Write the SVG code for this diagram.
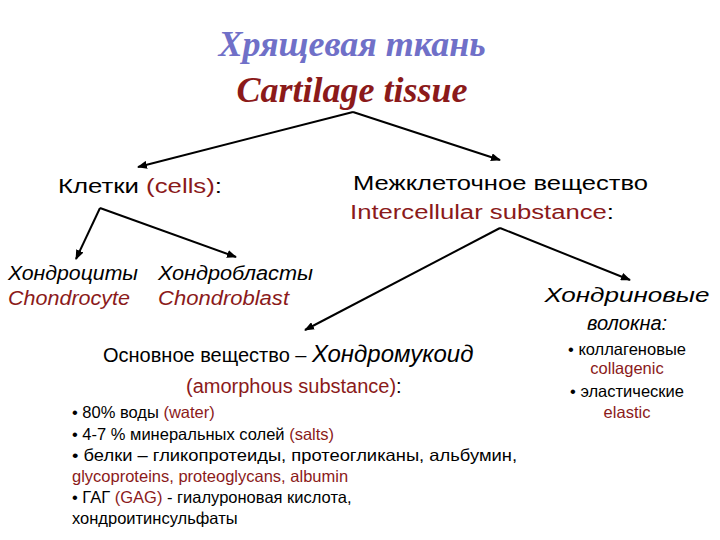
<svg xmlns="http://www.w3.org/2000/svg" width="720" height="540" viewBox="0 0 720 540">
<style>
.s{font-family:"Liberation Sans",Arial,sans-serif;font-size:20px;fill:#000}
.r{fill:#8b1a1a}
.i{font-style:italic}
.b{font-size:16.5px}
line{stroke:#000;stroke-width:2;marker-end:url(#a)}
</style>
<defs><marker id="a" markerWidth="10" markerHeight="8" refX="9" refY="4" orient="auto" markerUnits="userSpaceOnUse"><path d="M0,0L10,4L0,8z" fill="#000"/></marker></defs>
<rect width="720" height="540" fill="#fff"/>
<g id="title" font-family="Liberation Serif,Times New Roman,serif" font-style="italic" font-weight="bold" font-size="36" text-anchor="middle">
<text x="352" y="56" fill="#7070c8">Хрящевая ткань</text>
<text x="352" y="102" fill="#8b1a1a">Cartilage tissue</text></g>
<g id="cells"><text class="s" x="58" y="193" textLength="164" lengthAdjust="spacingAndGlyphs">Клетки <tspan class="r">(cells)</tspan>:</text></g>
<g id="inter"><text class="s" x="353" y="190" textLength="295" lengthAdjust="spacingAndGlyphs">Межклеточное вещество</text><text class="s" x="350" y="219" textLength="264" lengthAdjust="spacingAndGlyphs"><tspan class="r">Intercellular substance</tspan>:</text></g>
<g id="chondrocyte"><text class="s i" x="8" y="280" textLength="130" lengthAdjust="spacingAndGlyphs">Хондроциты</text><text class="s i r" x="8" y="305" textLength="122" lengthAdjust="spacingAndGlyphs">Chondrocyte</text></g>
<g id="chondroblast"><text class="s i" x="158" y="280" textLength="155" lengthAdjust="spacingAndGlyphs">Хондробласты</text><text class="s i r" x="158" y="305" textLength="131" lengthAdjust="spacingAndGlyphs">Chondroblast</text></g>
<g id="fibers" text-anchor="middle"><text class="s i" x="627" y="302" font-size="21" textLength="165" lengthAdjust="spacingAndGlyphs">Хондриновые</text><text class="s i" x="627" y="330" font-size="21">волокна:</text>
<text class="s b" x="627" y="355">• коллагеновые</text><text class="s b r" x="627" y="374">collagenic</text><text class="s b" x="627" y="397">• эластические</text><text class="s b r" x="627" y="418">elastic</text></g>
<g id="ground"><text class="s" x="103" y="362" font-size="16">Основное вещество – <tspan class="i" font-size="24">Хондромукоид</tspan></text>
<text class="s r" x="186" y="393" font-size="17">(amorphous substance)<tspan fill="#000">:</tspan></text>
<text class="s b" x="72" y="418">• 80% воды <tspan class="r">(water)</tspan></text>
<text class="s b" x="72" y="440">• 4-7 % минеральных солей <tspan class="r">(salts)</tspan></text>
<text class="s b" x="72" y="461" textLength="445" lengthAdjust="spacingAndGlyphs">• белки – гликопротеиды,  протеогликаны, альбумин,</text>
<text class="s b r" x="72" y="482">glycoproteins, proteoglycans, albumin</text>
<text class="s b" x="72" y="503">•  ГАГ <tspan class="r">(GAG)</tspan> - гиалуроновая кислота,</text>
<text class="s b" x="72" y="524">хондроитинсульфаты</text></g>
<g id="connectors">
<line x1="353" y1="112" x2="138" y2="167"/>
<line x1="353" y1="112" x2="500" y2="160"/>
<line x1="100" y1="208" x2="76" y2="259"/>
<line x1="100" y1="208" x2="236" y2="257"/>
<line x1="500" y1="228" x2="305" y2="330"/>
<line x1="500" y1="228" x2="630" y2="280"/>
</g>
</svg>
